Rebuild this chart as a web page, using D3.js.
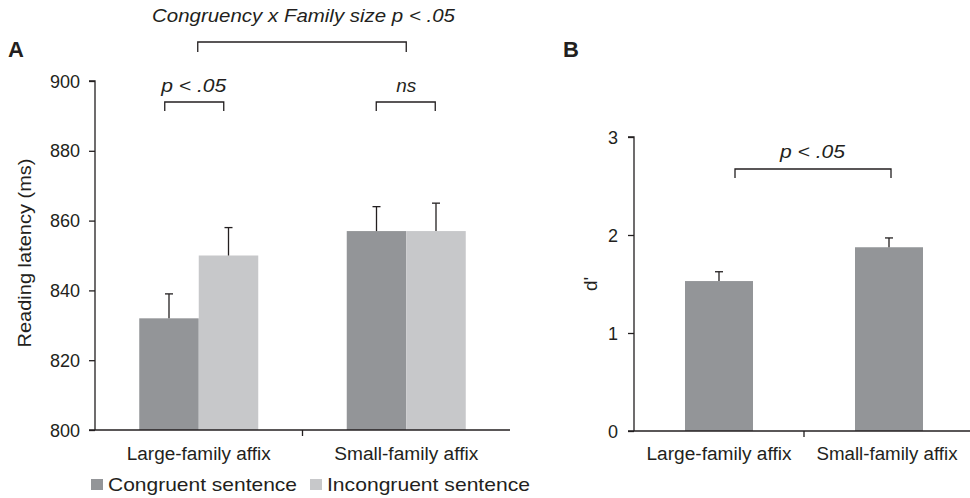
<!DOCTYPE html>
<html><head><meta charset="utf-8">
<script src="https://cdn.jsdelivr.net/npm/d3@7"></script>
<style>body{margin:0;background:#fff}svg{display:block;font-family:"Liberation Sans",Arial,sans-serif}</style>
</head><body><div id="c"></div>
<script>
// Panel A data
const categoriesA = ["Large-family affix", "Small-family affix"];
const seriesA = ["Congruent sentence", "Incongruent sentence"];
const congruentMeans = [832, 857];
const congruentErr = [7, 7];
const incongruentMeans = [850, 857];
const incongruentErr = [8, 8];
const ticksA = [800, 820, 840, 860, 880, 900];
// Panel B data
const categoriesB = ["Large-family affix", "Small-family affix"];
const dPrimeMeans = [1.53, 1.875];
const dPrimeErr = [0.095, 0.095];
const ticksB = [0, 1, 2, 3];

const W = 970, H = 498;
const ink = "#231f20";
const colCong = "#939598", colIncong = "#c7c8ca";
const svg = d3.select("#c").append("svg").attr("width", W).attr("height", H);

function txt(g, x, y, s, opts) {
  const t = g.append("text").attr("x", x).attr("y", y).attr("fill", ink)
    .attr("font-size", opts.size || 18).attr("text-anchor", opts.anchor || "middle").text(s);
  if (opts.italic) t.attr("font-style", "italic");
  if (opts.bold) t.attr("font-weight", "bold");
  if (opts.len) t.attr("textLength", opts.len).attr("lengthAdjust", "spacingAndGlyphs");
  if (opts.transform) t.attr("transform", opts.transform);
  return t;
}

// ---------- Panel A ----------
const xA = d3.scaleBand().domain(categoriesA).range([95, 510]);
const yA = d3.scaleLinear().domain([800, 900]).range([430, 81]);
const barW = 59.5;
const gA = svg.append("g");

const dataA = categoriesA.map((c, i) => ([
  {cat: c, s: 0, v: congruentMeans[i], e: congruentErr[i]},
  {cat: c, s: 1, v: incongruentMeans[i], e: incongruentErr[i]}
])).flat();
const bx = d => xA(d.cat) + xA.bandwidth() / 2 + (d.s === 0 ? -barW : 0);

gA.selectAll("rect.bar").data(dataA).join("rect")
  .attr("x", bx).attr("width", barW)
  .attr("y", d => yA(d.v)).attr("height", d => yA(800) - yA(d.v))
  .attr("fill", d => d.s === 0 ? colCong : colIncong);

const errA = gA.selectAll("g.err").data(dataA).join("g");
errA.append("line").attr("x1", d => bx(d) + barW / 2).attr("x2", d => bx(d) + barW / 2)
  .attr("y1", d => yA(d.v)).attr("y2", d => yA(d.v + d.e)).attr("stroke", ink).attr("stroke-width", 1.3);
errA.append("line").attr("x1", d => bx(d) + barW / 2 - 4).attr("x2", d => bx(d) + barW / 2 + 4)
  .attr("y1", d => yA(d.v + d.e)).attr("y2", d => yA(d.v + d.e)).attr("stroke", ink).attr("stroke-width", 1.3);

// axes A
const gyA = gA.append("g").attr("transform", "translate(95,0)")
  .call(d3.axisLeft(yA).tickValues(ticksA).tickSize(6).tickPadding(9));
gyA.select(".domain").attr("d", `M-6,${yA(900)}H0V${yA(800)}`);
gA.append("line").attr("x1", 89).attr("x2", 510).attr("y1", yA(800)).attr("y2", yA(800)).attr("stroke", ink).attr("stroke-width", 1.3);
gA.append("line").attr("x1", xA(categoriesA[1])).attr("x2", xA(categoriesA[1])).attr("y1", yA(800)).attr("y2", yA(800) + 6).attr("stroke", ink).attr("stroke-width", 1.3);
gyA.selectAll(".tick text").attr("font-size", 18).attr("fill", ink).attr("font-family", "Liberation Sans, Arial, sans-serif").attr("dy", "0.34em");
gyA.selectAll(".tick line, .domain").attr("stroke", ink).attr("stroke-width", 1.3);

categoriesA.forEach(c => txt(gA, xA(c) + xA.bandwidth() / 2, 460, c, {len: 144, size: 18}));

txt(gA, 0, 0, "Reading latency (ms)", {len: 189, size: 19, transform: "translate(31,253) rotate(-90)"});

// brackets A
function bracket(g, x1, x2, yTop, yBot) {
  g.append("path").attr("d", `M${x1},${yBot}V${yTop}H${x2}V${yBot}`)
    .attr("fill", "none").attr("stroke", ink).attr("stroke-width", 1.3);
}
const c0 = xA(categoriesA[0]) + xA.bandwidth() / 2, c1 = xA(categoriesA[1]) + xA.bandwidth() / 2;
bracket(gA, c0 - 34, c0 + 25, 102, 111);
bracket(gA, c1 - 30, c1 + 29, 102, 111);
bracket(gA, c0 - 1, c1, 42, 52);
txt(gA, c0 - 5, 92, "p < .05", {italic: true, len: 65, size: 19});
txt(gA, c1, 92, "ns", {italic: true, len: 20, size: 19});
txt(gA, 303.5, 22, "Congruency x Family size p < .05", {italic: true, len: 303, size: 19});

// legend
const legX = [91, 310];
const legLen = [189, 203];
const lg = gA.selectAll("g.leg").data(seriesA).join("g").attr("transform", (d, i) => `translate(${legX[i]},0)`);
lg.append("rect").attr("x", 0).attr("y", 479).attr("width", 12).attr("height", 11)
  .attr("fill", (d, i) => i === 0 ? colCong : colIncong);
lg.each(function(d, i) { txt(d3.select(this), 17, 491, d, {anchor: "start", len: legLen[i], size: 19}); });

txt(svg, 8, 57, "A", {anchor: "start", bold: true, size: 22});
txt(svg, 563, 57, "B", {anchor: "start", bold: true, size: 22});

// ---------- Panel B ----------
const xB = d3.scaleBand().domain(categoriesB).range([634, 974]);
const yB = d3.scaleLinear().domain([0, 3]).range([431, 137]);
const barWB = 68;
const gB = svg.append("g");
const dataB = categoriesB.map((c, i) => ({cat: c, v: dPrimeMeans[i], e: dPrimeErr[i]}));
const bxB = d => xB(d.cat) + xB.bandwidth() / 2 - barWB / 2;
gB.selectAll("rect.bar").data(dataB).join("rect")
  .attr("x", bxB).attr("width", barWB)
  .attr("y", d => yB(d.v)).attr("height", d => yB(0) - yB(d.v)).attr("fill", colCong);
const errB = gB.selectAll("g.err").data(dataB).join("g");
errB.append("line").attr("x1", d => bxB(d) + barWB / 2).attr("x2", d => bxB(d) + barWB / 2)
  .attr("y1", d => yB(d.v)).attr("y2", d => yB(d.v + d.e)).attr("stroke", ink).attr("stroke-width", 1.3);
errB.append("line").attr("x1", d => bxB(d) + barWB / 2 - 4).attr("x2", d => bxB(d) + barWB / 2 + 4)
  .attr("y1", d => yB(d.v + d.e)).attr("y2", d => yB(d.v + d.e)).attr("stroke", ink).attr("stroke-width", 1.3);

const gyB = gB.append("g").attr("transform", "translate(634,0)")
  .call(d3.axisLeft(yB).tickValues(ticksB).tickSize(6).tickPadding(10).tickFormat(d3.format("d")));
gyB.select(".domain").attr("d", `M-6,${yB(3)}H0V${yB(0)}`);
gB.append("line").attr("x1", 628).attr("x2", 974).attr("y1", yB(0)).attr("y2", yB(0)).attr("stroke", ink).attr("stroke-width", 1.3);
gB.append("line").attr("x1", xB(categoriesB[1])).attr("x2", xB(categoriesB[1])).attr("y1", yB(0)).attr("y2", yB(0) + 6).attr("stroke", ink).attr("stroke-width", 1.3);
gyB.selectAll(".tick text").attr("font-size", 18).attr("fill", ink).attr("font-family", "Liberation Sans, Arial, sans-serif").attr("dy", "0.34em");
gyB.selectAll(".tick line, .domain").attr("stroke", ink).attr("stroke-width", 1.3);
const labB = [145, 141];
categoriesB.forEach((c, i) => txt(gB, xB(c) + xB.bandwidth() / 2 - (i ? 2 : 0), 460, c, {len: labB[i], size: 18}));
txt(gB, 0, 0, "d'", {size: 19, transform: "translate(597,284) rotate(-90)"});
const cb0 = xB(categoriesB[0]) + xB.bandwidth() / 2, cb1 = xB(categoriesB[1]) + xB.bandwidth() / 2;
bracket(gB, cb0 + 16, cb1 + 2, 169, 178);
txt(gB, 812.5, 158, "p < .05", {italic: true, len: 65, size: 19});
</script></body></html>
